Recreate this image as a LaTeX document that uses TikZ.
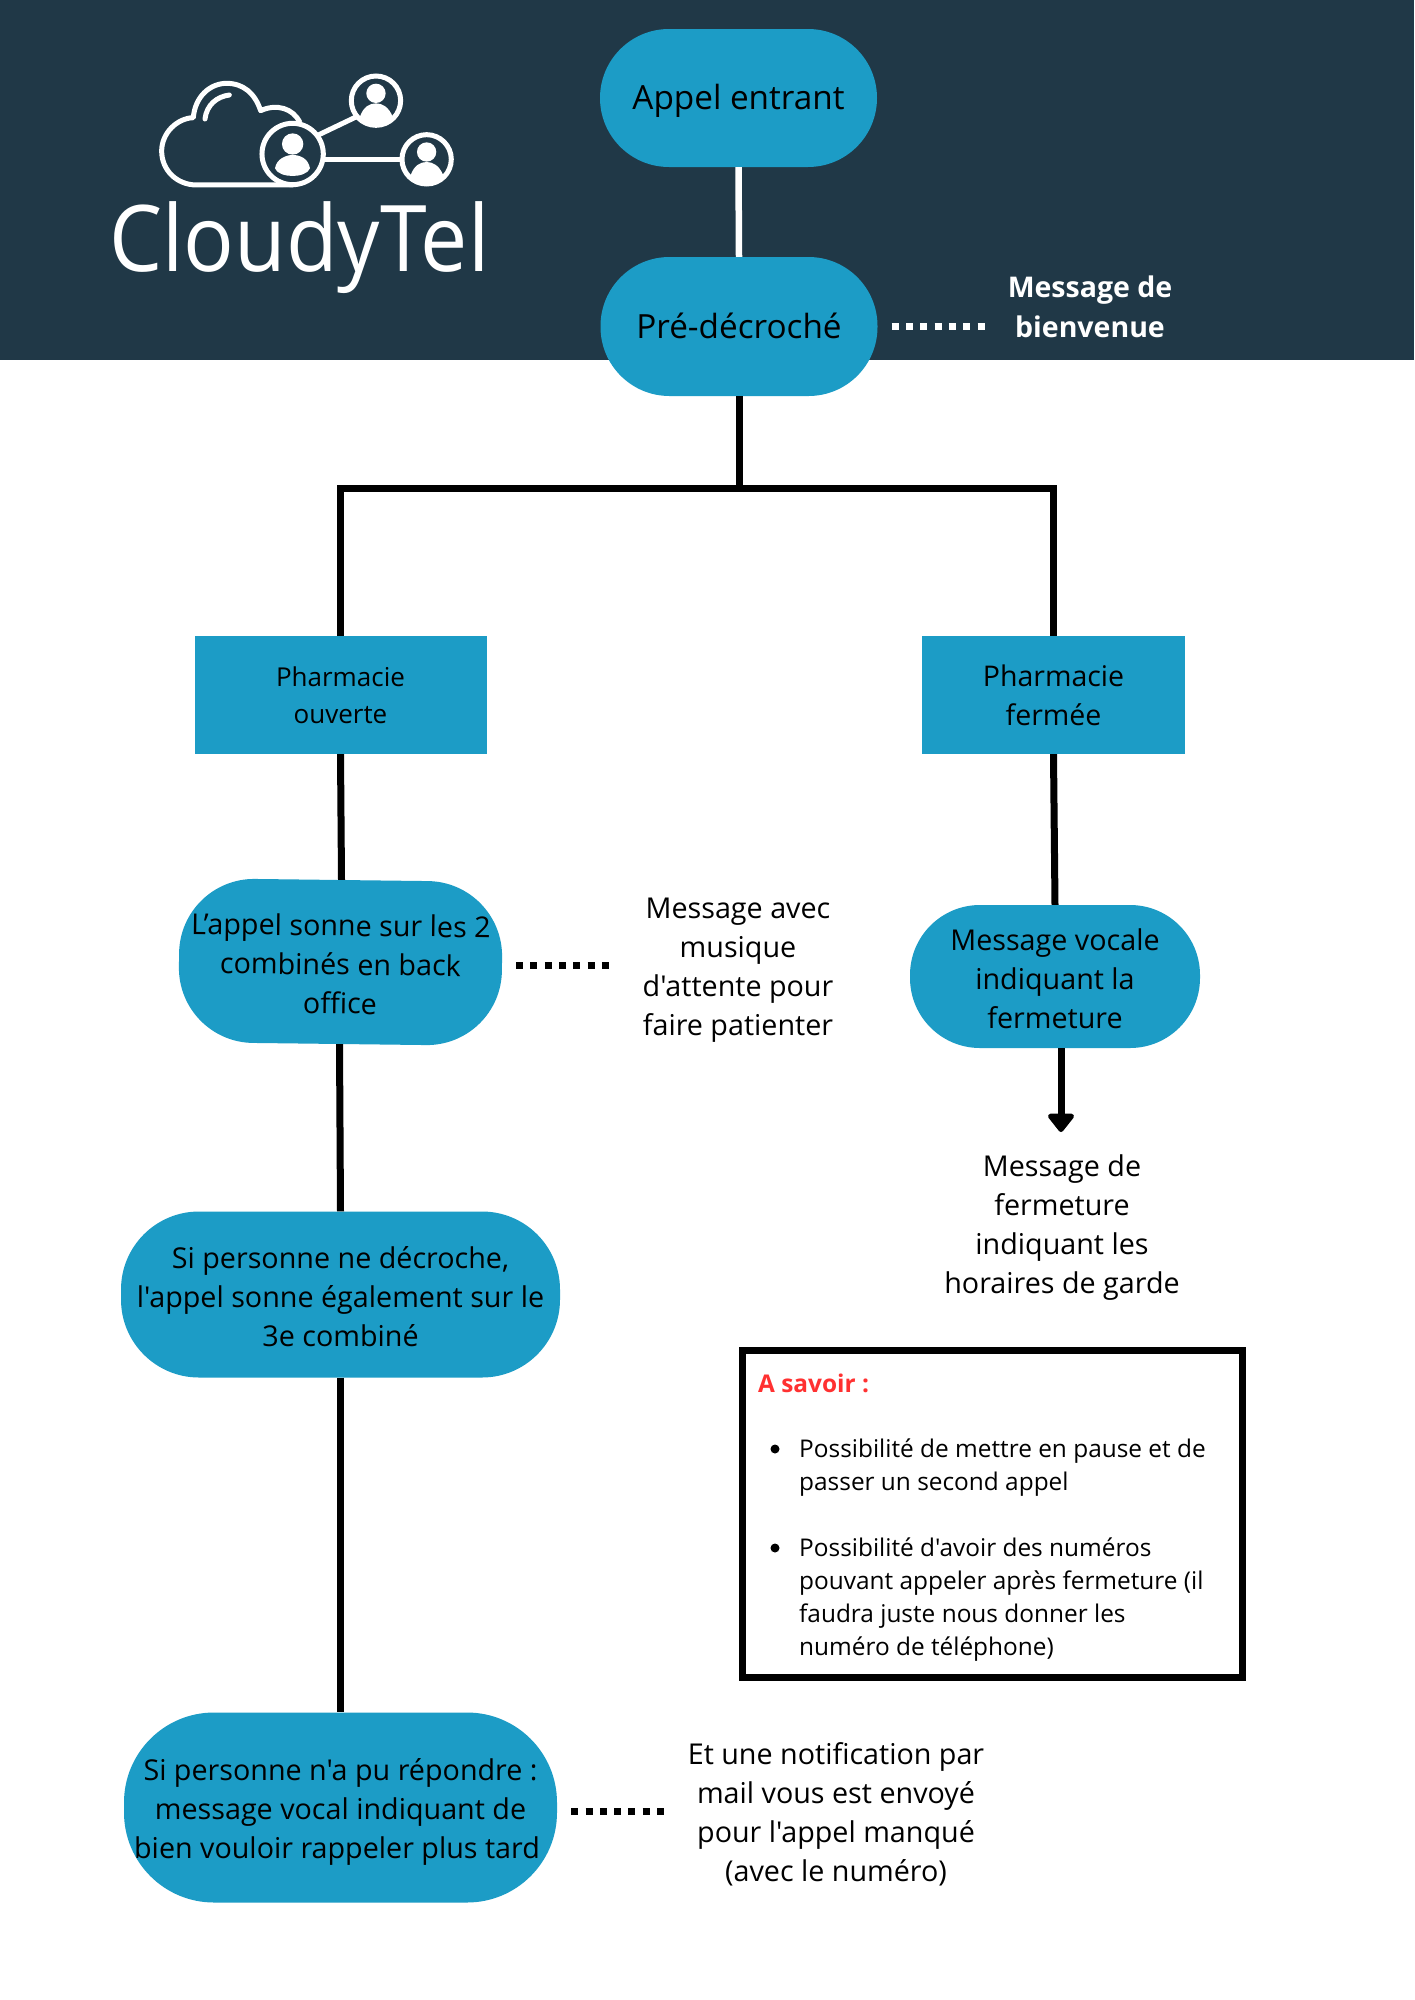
\documentclass[tikz,border=0pt]{standalone}
\usepackage{fontspec}
\setmainfont{Open Sans}[Ligatures=TeXOff]
\usetikzlibrary{arrows.meta,calc}
\definecolor{headerbg}{RGB}{32,56,71}
\definecolor{pillblue}{RGB}{28,156,198}
\definecolor{redtitle}{RGB}{255,49,49}
\newcommand\toplift[1]{\rule{0pt}{#1pt}}
\tikzset{
  pill/.style={fill=pillblue,text=black,inner sep=0pt,align=center,font=\fontsize{28.7}{39}\selectfont,rounded corners=#1},
  pill/.default=65pt,
  boxnode/.style={fill=pillblue,text=black,inner sep=0pt,align=center},
  plain/.style={text=black,inner sep=0pt,align=center,font=\fontsize{28.7}{39}\selectfont},
  link/.style={draw=black,line width=7pt},
  dots/.style={line width=7pt,dash pattern=on 7pt off 7.3pt},
  lst/.style={text=black,inner sep=0pt,align=left,anchor=west,font=\fontsize{24.4}{33}\selectfont},
  logoline/.style={draw=white,line width=5pt},
  single/.style={font=\fontsize{33.3}{39}\selectfont,text height=23pt,text depth=0pt},
}
\begin{document}
\begin{tikzpicture}[x=1pt,y=-1pt]
\useasboundingbox (0,0) rectangle (1414,2000);
\fill[white] (0,0) rectangle (1414,2000);
\fill[headerbg] (0,0) rectangle (1414,359.5);

% logo
\begin{scope}[shift={(80,50)},x=0.3333pt,y=-0.3333pt]
  \draw[logoline,line join=round] (640,405) -- (350,405)
    .. controls (290,405) and (245,360) .. (245,303)
    .. controls (245,250) and (290,205) .. (340,203)
    .. controls (345,140) and (390,100) .. (440,100)
    .. controls (490,100) and (525,130) .. (542,182)
    .. controls (590,160) and (640,175) .. (660,218);
  \draw[logoline,line cap=round] (375,207) .. controls (380,165) and (410,140) .. (448,135);
  \draw[logoline] (715,255) -- (830,200);
  \draw[logoline] (735,328) -- (960,328);
  \fill[headerbg] (638,312) circle (92);
  \draw[logoline] (638,312) circle (92);
  \fill[white] (638,282) circle (32);
  \fill[white] (585,355) .. controls (590,325) and (620,315) .. (638,315) .. controls (660,315) and (685,325) .. (690,355) .. controls (685,370) and (660,378) .. (638,378) .. controls (615,378) and (590,370) .. (585,355) -- cycle;
  \fill[headerbg] (888,152) circle (74);
  \begin{scope}
    \clip (888,152) circle (74);
    \fill[white] (888,130) circle (29);
    \fill[white] (840,200) .. controls (850,170) and (870,160) .. (888,160) .. controls (906,160) and (926,170) .. (938,200) -- (938,240) -- (840,240) -- cycle;
  \end{scope}
  \draw[logoline] (888,152) circle (74);
  \fill[headerbg] (1040,328) circle (74);
  \begin{scope}
    \clip (1040,328) circle (74);
    \fill[white] (1040,306) circle (29);
    \fill[white] (992,376) .. controls (1002,346) and (1022,336) .. (1040,336) .. controls (1058,336) and (1078,346) .. (1090,376) -- (1090,416) -- (992,416) -- cycle;
  \end{scope}
  \draw[logoline] (1040,328) circle (74);
\end{scope}
\node[anchor=base west,inner sep=0pt,text=white,font=\fontsize{92}{92}\selectfont] (logo) at (109,271) {\scalebox{0.915}[1]{CloudyTel}};

% junction and free ends
\coordinate (junc) at (739,488);
\coordinate (tip) at (1061,1132);

% pills and boxes
\node[pill=69pt,single,minimum width=277pt,minimum height=138pt] (appel) at (738.5,98) {Appel entrant};
\node[pill=69pt,single,minimum width=277pt,minimum height=139pt] (pre) at (739,326.5) {Pré-décroché};
\node[boxnode,minimum width=292pt,minimum height=118pt,font=\fontsize{26}{37}\selectfont] (ouv) at (340.5,695) {Pharmacie\\ouverte};
\node[boxnode,minimum width=263pt,minimum height=118pt,font=\fontsize{28.5}{39}\selectfont] (fer) at (1053.5,695) {Pharmacie\\fermée};
\node[pill=75pt,minimum width=323pt,minimum height=164pt,rotate=-0.7] (lap) at (340.5,962) {\toplift{26}L’appel sonne sur les 2\\combinés en back\\office};
\node[pill=70pt,minimum width=290pt,minimum height=143pt] (voc) at (1055,976.5) {\toplift{26}Message vocale\\indiquant la\\fermeture};
\node[pill=78pt,minimum width=439pt,minimum height=166pt] (sip) at (340.5,1294.5) {\toplift{26}Si personne ne décroche,\\l'appel sonne également sur le\\3e combiné};
\node[pill=90pt,minimum width=433pt,minimum height=190pt] (last) at (340.5,1807.5) {\toplift{31}Si personne n'a pu répondre :\\message vocal indiquant de\\\hspace*{-7pt}bien vouloir rappeler plus tard};

% connectors
\draw[draw=white,line width=6.5pt] (appel.south) -- (pre.north);
\draw[link] (pre.south) -- (junc);
\draw[link,line join=miter] (ouv.north) |- (junc) -| (fer.north);
\draw[link] (ouv.south) -- (lap.north);
\draw[link] (lap.south) -- (sip.north);
\draw[link] (sip.south) -- (last.north);
\draw[link] (fer.south) -- (voc.north);
\draw[line width=7pt,-{Triangle[width=30pt,length=20pt,round]}] (voc.south -| tip) -- (tip);
\draw[dots,draw=white] ([xshift=14pt]pre.east) -- ++(95,0);
\draw[dots,draw=black] ([xshift=14pt,yshift=-2pt]lap.east) -- ++(95,0);
\draw[dots,draw=black] ([xshift=14pt,yshift=-4pt]last.east) -- ++(95,0);

% free texts
\node[inner sep=0pt,align=center,text=white,font=\bfseries\fontsize{28.5}{39.5}\selectfont] (bienv) at (1090,307) {Message de\\bienvenue};
\node[plain] (musique) at (738,970) {Message avec\\musique\\d'attente pour\\faire patienter};
\node[plain] (msgf) at (1062,1228) {Message de\\fermeture\\indiquant les\\horaires de garde};
\node[plain] (notif) at (836,1814) {Et une notification par\\mail vous est envoyé\\pour l'appel manqué\\(avec le numéro)};

% info box
\node[draw=black,line width=7pt,inner sep=0pt,minimum width=500pt,minimum height=327pt] (info) at (992.5,1514) {};
\node[anchor=base west,inner sep=0pt,text=redtitle,font=\bfseries\fontsize{24.4}{33}\selectfont] (asavoir) at (758,1392) {A savoir :};
\fill[black] (775,1449) circle (4.5);
\fill[black] (775,1548) circle (4.5);
\node[lst] (l1) at (799,1468) {Possibilité de mettre en pause et de\\passer un second appel};
\node[lst] (l2) at (799,1600) {Possibilité d'avoir des numéros\\pouvant appeler après fermeture (il\\faudra juste nous donner les\\numéro de téléphone)};
\end{tikzpicture}
\end{document}
